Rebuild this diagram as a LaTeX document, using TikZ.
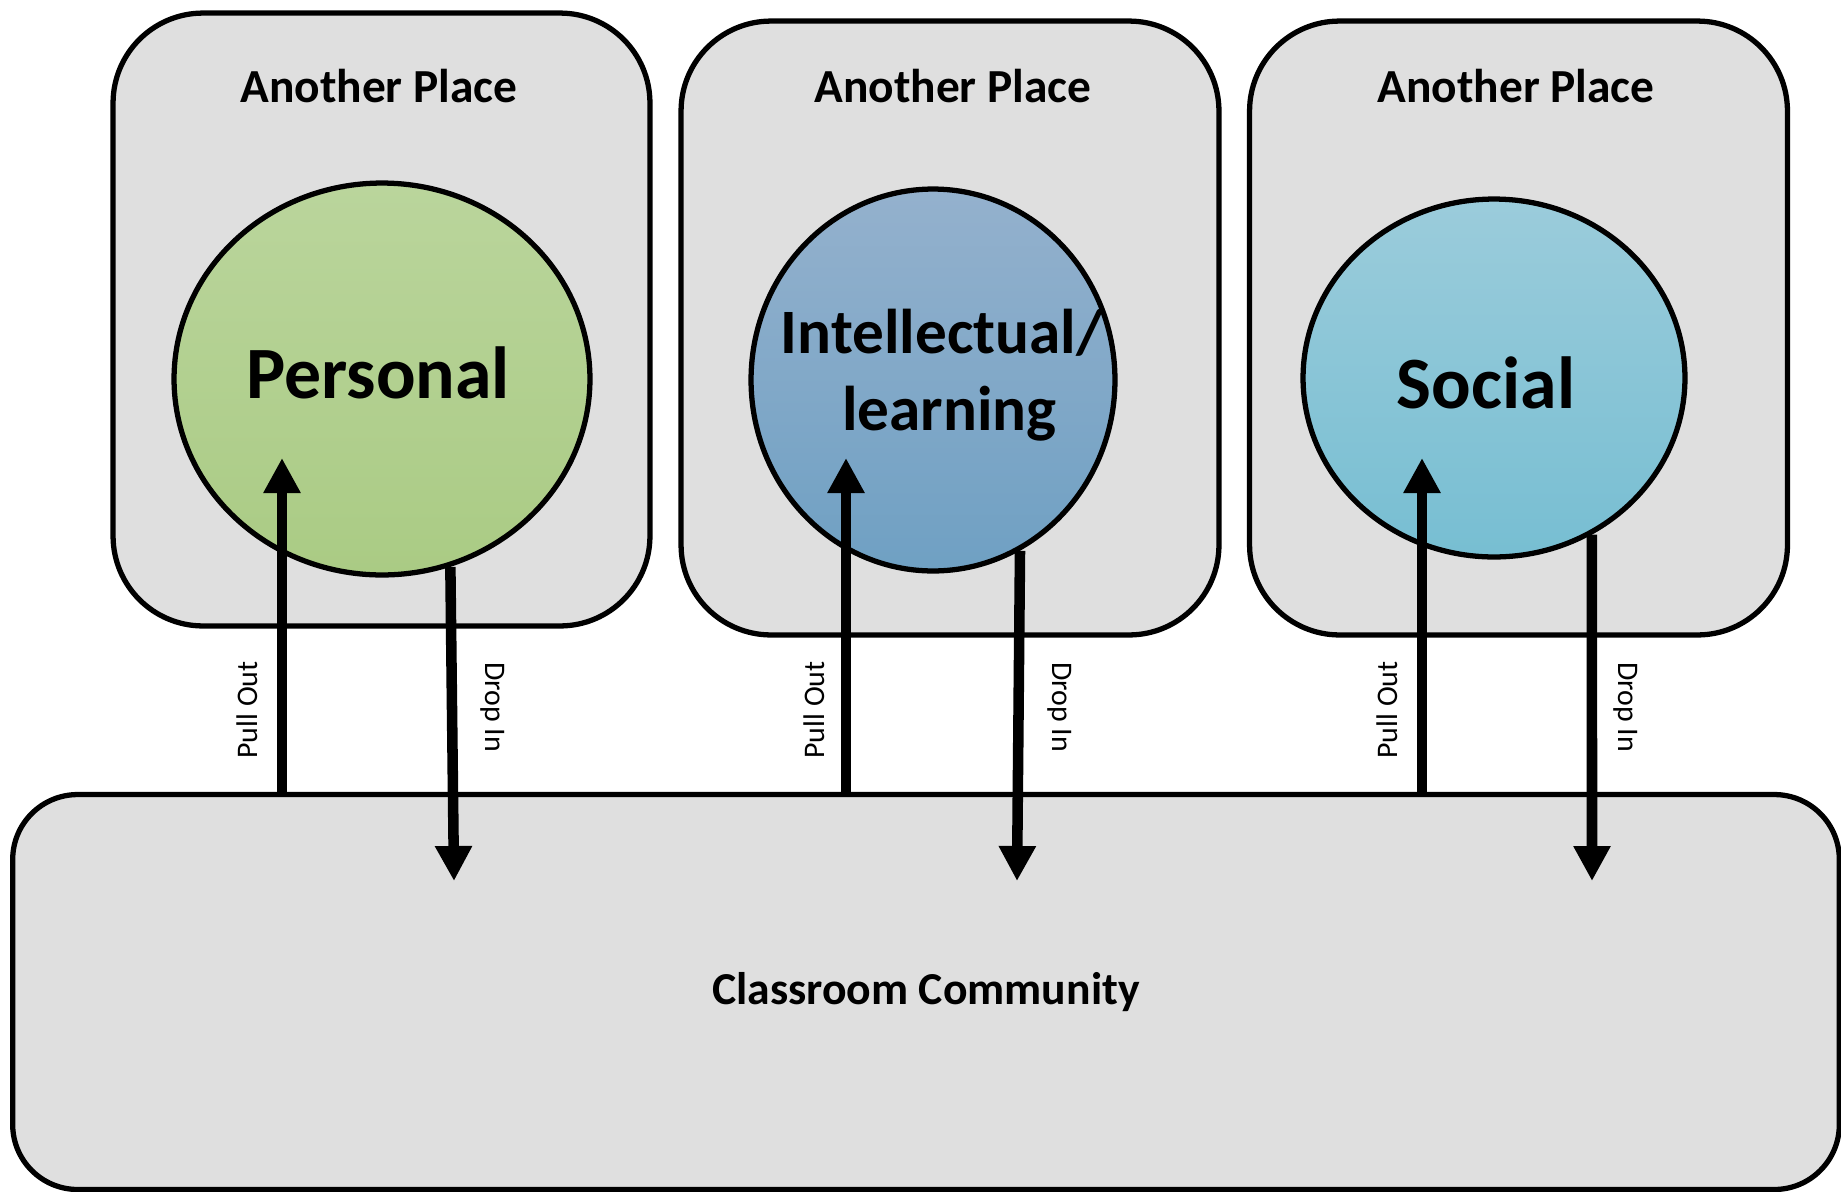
\documentclass[tikz,border=0pt]{standalone}
\usepackage{fontspec}
\setmainfont{Carlito}
\usetikzlibrary{shapes.geometric,arrows.meta}
\definecolor{placegray}{HTML}{DFDFDF}
\definecolor{greentop}{HTML}{BAD59C}
\definecolor{greenbot}{HTML}{AACB84}
\definecolor{bluetop}{HTML}{94B1CD}
\definecolor{bluebot}{HTML}{6FA0C3}
\definecolor{cyantop}{HTML}{9BCCDB}
\definecolor{cyanbot}{HTML}{77BED2}

\begin{document}
\begin{tikzpicture}[x=0.02cm, y=0.02cm]
                \tikzstyle{every node}+=[inner sep=0pt]
                \tikzstyle{placebox}=[draw=black, line width=3pt, fill=placegray, rounded corners=1.8cm, minimum width=10.76cm, minimum height=12.28cm]
                \tikzstyle{placetitle}=[font=\bfseries\fontsize{27}{32}\selectfont]
                \tikzstyle{topic}=[ellipse, draw=black, line width=3pt]
                \tikzstyle{topictxt}=[font=\bfseries\fontsize{42}{50}\selectfont, align=center]
                \tikzstyle{flow}=[line width=6pt, -{Triangle[length=0.7cm,width=0.7cm]}]
                \tikzstyle{flowtxt}=[font=\fontsize{17}{20}\selectfont]
                \useasboundingbox (0,0) rectangle (1841,-1191);
                % the three places
                \node [placebox, minimum width=10.74cm, minimum height=12.26cm] (place1) at (381.5,-319.5) {};
                \node [placebox] (place2) at (950,-328) {};
                \node [placebox] (place3) at (1518.5,-328) {};
                \node [placetitle] (title1) at (379,-86) {Another Place};
                \node [placetitle] (title2) at (953,-86) {Another Place};
                \node [placetitle] (title3) at (1516,-86) {Another Place};
                % classroom
                \node [placebox, minimum width=36.54cm, minimum height=7.9cm, rounded corners=1.3cm, font=\bfseries\fontsize{26}{31}\selectfont] (community) at (926,-992) {Classroom Community};
                % circles
                \node [topic, minimum width=8.32cm, minimum height=7.84cm, top color=greentop, bottom color=greenbot] (c1) at (382,-379) {};
                \node [topic, minimum width=7.28cm, minimum height=7.64cm, top color=bluetop, bottom color=bluebot] (c2) at (933,-380) {};
                \node [topic, minimum width=7.64cm, minimum height=7.16cm, top color=cyantop, bottom color=cyanbot] (c3) at (1494,-378) {};
                \node [topictxt] (personal) at (378,-373) {Personal};
                \node [topictxt, font=\bfseries\fontsize{36}{44}\selectfont] (intellectual) at (942,-375) {Intellectual/\\\hspace*{0.3cm}learning};
                \node [topictxt] (social) at (1486,-383) {Social};
                % pull out / drop in
                \coordinate (po1) at (282,-795);
                \coordinate (pt1) at (282,-458);
                \coordinate (di1) at (454,-881);
                \coordinate (po2) at (846,-795);
                \coordinate (pt2) at (846,-458);
                \coordinate (di2) at (1017,-881);
                \coordinate (po3) at (1422,-795);
                \coordinate (pt3) at (1422,-458);
                \coordinate (di3) at (1592,-881);
                \draw [flow] (po1) -- (pt1);
                \draw [flow] (c1.-70) -- (di1);
                \draw [flow] (po2) -- (pt2);
                \draw [flow] (c2.-63) -- (di2);
                \draw [flow] (po3) -- (pt3);
                \draw [flow] (c3.-58) -- (di3);
                \node [flowtxt, rotate=90] (pull1) at (247,-710) {Pull Out};
                \node [flowtxt, rotate=-90] (drop1) at (493,-707) {Drop In};
                \node [flowtxt, rotate=90] (pull2) at (814,-710) {Pull Out};
                \node [flowtxt, rotate=-90] (drop2) at (1060,-707) {Drop In};
                \node [flowtxt, rotate=90] (pull3) at (1387,-710) {Pull Out};
                \node [flowtxt, rotate=-90] (drop3) at (1626,-707) {Drop In};
              \end{tikzpicture}
\end{document}
